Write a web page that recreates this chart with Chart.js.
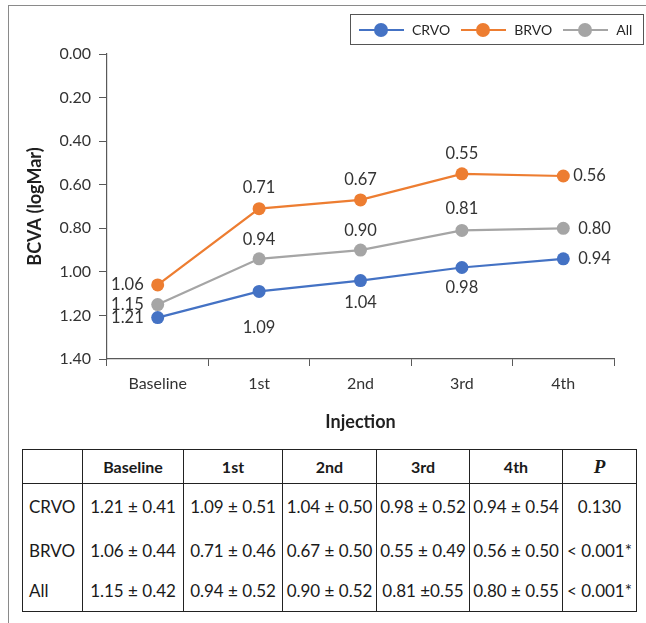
<!DOCTYPE html>
<html lang="en">
<head>
<meta charset="UTF-8">
<title>BCVA by injection</title>
<style>
    body { margin: 0; width: 646px; height: 623px; overflow: hidden; background: #fff; font-family: Lato, sans-serif; position: relative; }
    .frame { position: absolute; left: 8px; top: 5px; width: 700px; height: 700px; border: 1px solid #8a8a8a; box-sizing: border-box; }
    #chartBox { position: absolute; left: 0; top: 0; width: 646px; height: 440px; }
    .legend { position: absolute; left: 350px; top: 14px; width: 294px; height: 31px; border: 1px solid #555; box-sizing: border-box;
              display: flex; align-items: center; font-size: 14px; color: #262626; }
    .legend .item { display: flex; align-items: center; margin-left: 8px; margin-right: 3px; }
    .legend .mark { position: relative; width: 45px; height: 14px; margin-right: 8px; }
    .legend .mark .ln { position: absolute; left: 0; right: 0; top: 6px; height: 2.5px; }
    .legend .mark .dot { position: absolute; left: 15px; top: 0; width: 14px; height: 14px; border-radius: 50%; }
    table { position: absolute; left: 22px; top: 449px; border-collapse: collapse; table-layout: fixed; width: 614px;
            font-size: 17px; color: #1a1a1a; border: 1.5px solid #222; }
    th, td { padding: 0; text-align: center; white-space: nowrap; border-left: 1.5px solid #222; }
    th { font-weight: bold; font-size: 16px; height: 33px; border-bottom: 1.5px solid #222; }
    th.p { font-family: "Liberation Serif", serif; font-style: italic; font-size: 19px; }
    td.name { text-align: left; padding-left: 6px; }
</style>
</head>
<body>
<div class="frame"></div>
<div id="chartBox"><canvas id="bcvaChart" width="646" height="440"></canvas></div>
<div class="legend" id="legend"></div>
<table id="statTable">
    <colgroup>
        <col style="width:60px"><col style="width:101px"><col style="width:99px"><col style="width:94px">
        <col style="width:93px"><col style="width:93px"><col style="width:74px">
    </colgroup>
    <thead><tr id="headRow"></tr></thead>
    <tbody id="tableBody"></tbody>
</table>

<script src="https://cdn.jsdelivr.net/npm/chart.js"></script>
<script>
    // data
    const injections = ['Baseline', '1st', '2nd', '3rd', '4th'];
    const crvo = [1.21, 1.09, 1.04, 0.98, 0.94];
    const brvo = [1.06, 0.71, 0.67, 0.55, 0.56];
    const all  = [1.15, 0.94, 0.90, 0.81, 0.80];
    const yTicks = [0, 0.2, 0.4, 0.6, 0.8, 1.0, 1.2, 1.4];

    // table text
    const crvoCells = ['1.21 ± 0.41', '1.09 ± 0.51', '1.04 ± 0.50', '0.98 ± 0.52', '0.94 ± 0.54'];
    const brvoCells = ['1.06 ± 0.44', '0.71 ± 0.46', '0.67 ± 0.50', '0.55 ± 0.49', '0.56 ± 0.50'];
    const allCells  = ['1.15 ± 0.42', '0.94 ± 0.52', '0.90 ± 0.52', '0.81 ±0.55', '0.80 ± 0.55'];
    const pValues = ['0.130', '< 0.001*', '< 0.001*'];

    const txt = '#333333';
    const axisCol = '#595959';

    // where each value label sits: [side, gap]
    const crvoLabels = [['left', 14], ['below', 36], ['below', 22], ['below', 20], ['right', 15]];
    const brvoLabels = [['left', 14], ['above', 21], ['above', 20], ['above', 20], ['right', 10]];
    const allLabels  = [['left', 14], ['above', 19], ['above', 19], ['above', 22], ['right', 15]];

    function series(label, data, color, places) {
        return {
            label: label, data: data, borderColor: color, backgroundColor: color,
            borderWidth: 2.25, pointRadius: 6.5, pointHoverRadius: 6.5, pointBorderWidth: 0,
            tension: 0, labelPlaces: places
        };
    }

    // value labels next to the points
    const valueLabels = {
        id: 'valueLabels',
        afterDatasetsDraw(chart) {
            const ctx = chart.ctx;
            ctx.save();
            ctx.font = '16.5px Lato';
            ctx.fillStyle = txt;
            chart.data.datasets.forEach((ds, i) => {
                const meta = chart.getDatasetMeta(i);
                meta.data.forEach((pt, j) => {
                    const [side, gap] = ds.labelPlaces[j];
                    const s = ds.data[j].toFixed(2);
                    let x = pt.x, y = pt.y;
                    ctx.textBaseline = 'middle';
                    if (side === 'left') { ctx.textAlign = 'right'; x -= gap; }
                    else if (side === 'right') { ctx.textAlign = 'left'; x += gap; }
                    else if (side === 'above') { ctx.textAlign = 'center'; y -= gap; }
                    else { ctx.textAlign = 'center'; y += gap; }
                    ctx.fillText(s, x, y);
                });
            });
            ctx.restore();
        }
    };

    const chart = new Chart(document.getElementById('bcvaChart'), {
        type: 'line',
        data: {
            labels: injections,
            datasets: [
                series('CRVO', crvo, '#4472C4', crvoLabels),
                series('BRVO', brvo, '#ED7D31', brvoLabels),
                series('All', all, '#A5A5A5', allLabels)
            ]
        },
        options: {
            responsive: false,
            animation: false,
            events: [],
            layout: { padding: { left: 20, right: 32, top: 54, bottom: 0 } },
            plugins: { legend: { display: false }, tooltip: { enabled: false } },
            scales: {
                x: {
                    offset: true,
                    afterFit(scale) { scale.height = 81; },
                    grid: { offset: true, drawOnChartArea: false, drawTicks: true, tickLength: 7, color: axisCol },
                    border: { color: axisCol, width: 1.2 },
                    ticks: { color: txt, font: { family: 'Lato', size: 16 }, padding: 8 },
                    title: { display: true, text: 'Injection', color: '#1f1f1f',
                             font: { family: 'Lato', size: 18, weight: 'bold' }, padding: { bottom: 7 } }
                },
                y: {
                    reverse: true, min: 0, max: 1.4,
                    afterFit(scale) { scale.width = 87; },
                    afterBuildTicks(scale) { scale.ticks = yTicks.map(v => ({ value: v })); },
                    grid: { drawOnChartArea: false, drawTicks: true, tickLength: 8, color: axisCol },
                    border: { color: axisCol, width: 1.2 },
                    ticks: { color: txt, font: { family: 'Lato', size: 16 }, padding: 8,
                             callback: v => Number(v).toFixed(2) },
                    title: { display: true, text: 'BCVA (logMar)', color: '#1f1f1f',
                             font: { family: 'Lato', size: 18, weight: 'bold' }, padding: { top: 4 } }
                }
            }
        },
        plugins: [valueLabels]
    });

    // legend built from the datasets
    const legend = document.getElementById('legend');
    chart.data.datasets.forEach(ds => {
        const item = document.createElement('div');
        item.className = 'item';
        item.innerHTML = '<div class="mark"><div class="ln" style="background:' + ds.borderColor + '"></div>' +
            '<div class="dot" style="background:' + ds.borderColor + '"></div></div><span>' + ds.label + '</span>';
        legend.appendChild(item);
    });

    // table below the chart
    const headRow = document.getElementById('headRow');
    headRow.innerHTML = '<th></th>' + injections.map(c => '<th>' + c + '</th>').join('') + '<th class="p">P</th>';
    const rows = [['CRVO', crvoCells, 46], ['BRVO', brvoCells, 41], ['All', allCells, 41]];
    const body = document.getElementById('tableBody');
    rows.forEach(([name, cells, h], k) => {
        const tr = document.createElement('tr');
        tr.style.height = h + 'px';
        tr.innerHTML = '<td class="name">' + name + '</td>' + cells.map(c => '<td>' + c + '</td>').join('') +
            '<td>' + pValues[k] + '</td>';
        body.appendChild(tr);
    });
</script>
</body>
</html>
